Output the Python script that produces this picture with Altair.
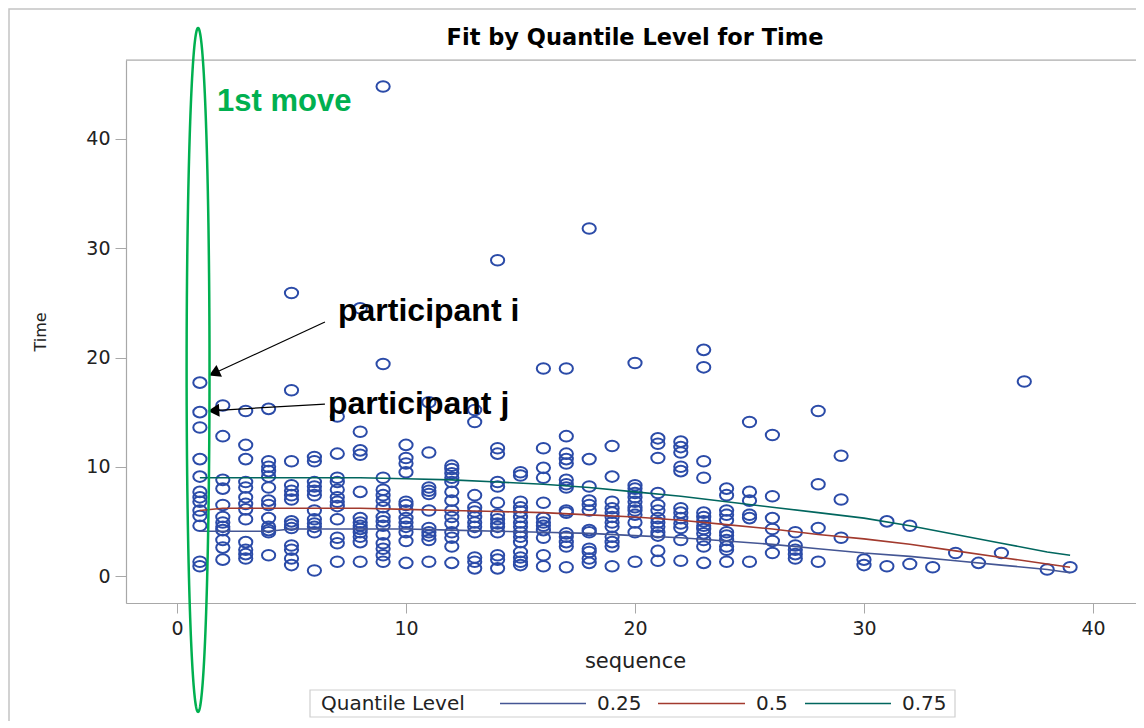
import altair as alt
import numpy as np
import pandas as pd

s1 = [17.7, 15.0, 13.6, 10.7, 9.1, 7.7, 7.2, 6.8, 6.0, 5.5, 4.6, 1.3, 0.9]
s2 = [15.6, 12.8, 8.8, 8.0, 6.5, 5.4, 4.9, 4.5, 4.2, 3.3, 2.6, 1.5]
s3 = [15.1, 12.0, 10.7, 8.6, 8.1, 7.2, 6.6, 6.1, 5.2, 3.1, 2.4, 2.0, 1.6]
s4 = [15.3, 10.5, 10.0, 9.6, 9.1, 8.1, 6.9, 6.5, 5.3, 4.5, 4.2, 4.0, 1.9]
s5 = [25.9, 17.0, 10.5, 8.3, 7.8, 7.4, 7.0, 5.0, 4.7, 4.4, 2.8, 2.4, 1.6, 1.0]
s6 = [10.9, 10.5, 8.6, 8.2, 7.8, 7.4, 6.0, 5.2, 4.8, 4.5, 4.0, 0.5]
s7 = [14.6, 11.2, 9.0, 8.6, 7.9, 7.2, 6.8, 6.4, 5.2, 3.5, 3.0, 1.3]
s8 = [24.5, 13.2, 11.5, 11.1, 7.7, 5.3, 4.9, 4.6, 4.3, 4.0, 3.6, 3.1, 1.3]
s9 = [44.8, 19.4, 9.0, 7.9, 7.4, 6.9, 6.3, 5.4, 5.0, 4.6, 3.8, 3.0, 2.5, 1.9, 1.3]
s10 = [12.0, 10.8, 10.3, 9.5, 6.8, 6.5, 6.0, 5.3, 4.9, 4.5, 4.0, 3.2, 1.2]
s11 = [15.9, 11.3, 8.1, 7.8, 7.5, 6.0, 4.4, 4.0, 3.7, 3.3, 1.3]
s12 = [10.1, 9.8, 9.4, 9.0, 8.6, 7.7, 6.9, 6.0, 5.4, 4.8, 4.0, 3.5, 2.7, 1.2]
s13 = [15.2, 14.1, 7.4, 6.3, 5.9, 5.4, 4.9, 4.5, 4.0, 1.7, 1.3, 0.7]
s14 = [28.9, 11.7, 11.2, 8.6, 8.2, 6.7, 5.6, 5.2, 4.8, 4.5, 4.0, 1.9, 1.5, 0.7]
s15 = [9.5, 9.2, 6.8, 6.3, 5.9, 5.4, 4.9, 4.5, 4.0, 3.6, 3.1, 2.2, 1.7, 1.3, 1.0]
s16 = [19.0, 11.7, 9.9, 9.0, 6.7, 5.3, 4.9, 4.6, 4.2, 3.5, 1.9, 0.9]
s17 = [19.0, 12.8, 11.2, 10.7, 10.3, 8.8, 8.4, 8.1, 6.0, 5.8, 3.9, 3.6, 3.1, 2.7, 0.8]
s18 = [31.8, 10.7, 8.2, 6.9, 6.5, 6.0, 4.2, 4.0, 2.5, 2.2, 1.6, 1.2]
s19 = [11.9, 9.1, 6.8, 6.2, 5.8, 5.4, 4.9, 4.5, 3.6, 3.1, 2.7, 0.9]
s20 = [19.5, 8.3, 8.0, 7.6, 7.2, 6.8, 6.3, 6.0, 5.6, 4.9, 4.0, 1.3]
s21 = [12.6, 12.1, 10.8, 7.6, 6.5, 6.0, 5.3, 4.9, 4.5, 4.0, 3.7, 2.3, 1.4]
s22 = [12.3, 11.8, 11.3, 10.0, 9.6, 6.2, 5.8, 5.3, 4.8, 4.4, 3.3, 1.4]
s23 = [20.7, 19.1, 10.5, 9.0, 5.8, 5.4, 5.0, 4.6, 4.3, 3.9, 3.3, 2.7, 1.2]
s24 = [8.0, 7.4, 6.0, 5.6, 5.1, 4.0, 3.7, 3.3, 2.7, 2.4, 1.3]
s25 = [14.1, 7.7, 6.9, 5.6, 5.3, 1.3]
s26 = [12.9, 7.3, 5.3, 4.3, 3.2, 2.1]
s27 = [4.0, 2.8, 2.4, 2.0, 1.6]
s28 = [15.1, 8.4, 4.4, 1.3]
s29 = [11.0, 7.0, 3.5]
s30 = [1.5, 1.0]
s31 = [5.0, 0.9]
s32 = [4.6, 1.1]
s33 = [0.8]
s34 = [2.1]
s35 = [1.2]
s36 = [2.1]
s37 = [17.8]
s38 = [0.6]
s39 = [0.8]
columns = [s1, s2, s3, s4, s5, s6, s7, s8, s9, s10, s11, s12, s13, s14, s15, s16,
           s17, s18, s19, s20, s21, s22, s23, s24, s25, s26, s27, s28, s29, s30,
           s31, s32, s33, s34, s35, s36, s37, s38, s39]

# ---- quantile fit curves ----
q_seq = [1, 2, 4, 5, 8, 10, 12, 14, 16, 18, 20, 22, 24, 26, 28, 30, 32, 34, 36, 38, 39]
q25 = [4.1, 4.1, 4.1, 4.3, 4.3, 4.3, 4.2, 4.1, 4.0, 3.9, 3.7, 3.5, 3.2, 2.9, 2.5, 2.1, 1.8, 1.4, 1.0, 0.6, 0.3]
q50 = [6.0, 6.2, 6.2, 6.2, 6.2, 6.1, 6.0, 5.9, 5.8, 5.6, 5.4, 5.1, 4.7, 4.3, 3.8, 3.4, 2.9, 2.3, 1.7, 1.1, 0.8]
q75 = [9.0, 9.0, 9.0, 9.0, 9.0, 8.9, 8.8, 8.6, 8.4, 8.1, 7.7, 7.3, 6.8, 6.3, 5.8, 5.3, 4.6, 3.8, 3.0, 2.2, 1.9]
levels = ["0.25", "0.5", "0.75"]
level_colors = ["#445694", "#A23A2E", "#01665E"]

# ---- annotations (data coordinates) ----
ann_text = ["participant i", "participant j"]
ann_text_x = [7.03, 6.59]
ann_text_y = [24.26, 15.74]
arrow_x1 = [6.46, 6.46]
arrow_y1 = [23.25, 15.74]
arrow_x2 = [1.62, 1.60]
arrow_y2 = [18.56, 15.14]
arrow_angle = [245.2, 266.6]
move_label = ["1st move"]
move_x = [1.75]
move_y = [43.39]
ellipse_center = (0.92, 18.86)
ellipse_radius = (0.50, 31.3)

# ---- legend layout (pixels relative to the plot area) ----
legend_title = "Quantile Level"
leg_box = (184, 630, 829, 657)
leg_title_x = 195
leg_line_x1 = [374, 532, 679]
leg_line_x2 = [460, 619, 765]
leg_label_x = [471, 630, 776]
leg_mid_y = 643.5

# ---- build tables ----
pts = pd.DataFrame(
    [(i + 1, v) for i, col in enumerate(columns) for v in col],
    columns=["sequence", "Time"],
)
qdf = pd.concat(
    [pd.DataFrame({"sequence": q_seq, "Time": vals, "level": lv})
     for lv, vals in zip(levels, [q25, q50, q75])],
    ignore_index=True,
)
theta = np.linspace(0, 2 * np.pi, 241)
ell = pd.DataFrame({
    "sequence": ellipse_center[0] + ellipse_radius[0] * np.cos(theta),
    "Time": ellipse_center[1] + ellipse_radius[1] * np.sin(theta),
    "o": np.arange(len(theta)),
})
arrows = pd.DataFrame({"sequence": arrow_x1, "Time": arrow_y1,
                       "sequence2": arrow_x2, "Time2": arrow_y2,
                       "angle": arrow_angle})
labels = pd.DataFrame({"sequence": ann_text_x, "Time": ann_text_y, "txt": ann_text})
move = pd.DataFrame({"sequence": move_x, "Time": move_y, "txt": move_label})
leg = pd.DataFrame({"level": levels, "lx1": leg_line_x1, "lx2": leg_line_x2,
                    "tx": leg_label_x, "ly": [leg_mid_y] * 3})

# plot area (pixels); the frame runs past the right edge of the page as in the picture
W, H = 1010, 543
xs = alt.Scale(domain=[-2.227, 41.878], nice=False, zero=False)
ys = alt.Scale(domain=[-2.47, 47.23], nice=False, zero=False)
cscale = alt.Scale(domain=levels, range=level_colors)
FRAME = "#a8a8a8"
CENTER_X = 509

AXF = "DejaVu Sans"
x_axis = alt.Axis(values=[0, 10, 20, 30, 40], title="sequence", grid=False, domain=True,
                  domainColor=FRAME, domainWidth=1.2,
                  tickSize=10, tickColor=FRAME, labelPadding=6, labelFontSize=19,
                  labelFont=AXF, labelColor="#222222", titleFont=AXF, titleFontSize=21,
                  titleFontWeight="normal", titleColor="#222222", titleY=58,
                  titleX=CENTER_X, titleBaseline="middle", titleAlign="center")
y_axis = alt.Axis(values=[0, 10, 20, 30, 40], title="Time", grid=False, domain=True,
                  domainColor=FRAME, domainWidth=1.2,
                  tickSize=11, tickColor=FRAME, labelPadding=5, labelFontSize=19,
                  labelFont=AXF, labelColor="#222222", titleFont=AXF, titleFontSize=16,
                  titleFontWeight="normal", titleColor="#222222", titleX=-86,
                  titleY=H / 2, titleBaseline="middle", titleAlign="center")

ellipse_marker = "M -1 0 A 1 0.8 0 1 0 1 0 A 1 0.8 0 1 0 -1 0 Z"
one = pd.DataFrame({"a": [0]})

border = alt.Chart(one).mark_rect(
    fillOpacity=0, stroke="#c4c4c4", strokeWidth=1.5
).encode(x=alt.value(-117), x2=alt.value(W + 40), y=alt.value(-51), y2=alt.value(H + 140))

top_frame = alt.Chart(one).mark_rule(color=FRAME, strokeWidth=1.2).encode(
    x=alt.value(0), x2=alt.value(W + 20), y=alt.value(0)
)

title = alt.Chart(one).mark_text(
    text="Fit by Quantile Level for Time", font=AXF, fontSize=22.5, fontWeight="bold",
    color="black", align="center", baseline="middle"
).encode(x=alt.value(CENTER_X), y=alt.value(-22))

points = alt.Chart(pts).mark_point(
    shape=ellipse_marker, size=175, strokeWidth=2.0, color="#2b4ba8", filled=False, opacity=1
).encode(
    x=alt.X("sequence:Q", scale=xs, axis=x_axis),
    y=alt.Y("Time:Q", scale=ys, axis=y_axis),
)

lines = alt.Chart(qdf).mark_line(strokeWidth=1.6).encode(
    x=alt.X("sequence:Q", scale=xs),
    y=alt.Y("Time:Q", scale=ys),
    color=alt.Color("level:N", scale=cscale, legend=None),
)

leg_rect = alt.Chart(one).mark_rect(
    fill="white", stroke="#cfcfcf", strokeWidth=1.2
).encode(x=alt.value(leg_box[0]), x2=alt.value(leg_box[2]),
         y=alt.value(leg_box[1]), y2=alt.value(leg_box[3]))
leg_title = alt.Chart(one).mark_text(
    text=legend_title, font=AXF, fontSize=20, color="#222222", align="left", baseline="middle"
).encode(x=alt.value(leg_title_x), y=alt.value(leg_mid_y))
leg_lines = alt.Chart(leg).mark_rule(strokeWidth=1.6).encode(
    x=alt.X("lx1:Q", scale=None), x2="lx2:Q", y=alt.Y("ly:Q", scale=None),
    color=alt.Color("level:N", scale=cscale, legend=None),
)
leg_labels = alt.Chart(leg).mark_text(
    font=AXF, fontSize=20, color="#222222", align="left", baseline="middle"
).encode(x=alt.X("tx:Q", scale=None), y=alt.Y("ly:Q", scale=None), text="level:N")

ellipse = alt.Chart(ell).mark_line(color="#00b050", strokeWidth=2.5, clip=False).encode(
    x=alt.X("sequence:Q", scale=xs), y=alt.Y("Time:Q", scale=ys), order="o:Q"
)

arrow_lines = alt.Chart(arrows).mark_rule(color="black", strokeWidth=1.2).encode(
    x=alt.X("sequence:Q", scale=xs), y=alt.Y("Time:Q", scale=ys),
    x2="sequence2:Q", y2="Time2:Q",
)
arrow_heads = alt.Chart(arrows).mark_point(
    shape="triangle-up", filled=True, color="black", size=170, opacity=1
).encode(
    x=alt.X("sequence2:Q", scale=xs), y=alt.Y("Time2:Q", scale=ys),
    angle=alt.Angle("angle:Q", scale=None),
)

ann = alt.Chart(labels).mark_text(
    align="left", baseline="middle", font="Liberation Sans", fontWeight="bold",
    fontSize=32, color="black"
).encode(x=alt.X("sequence:Q", scale=xs), y=alt.Y("Time:Q", scale=ys), text="txt:N")

move_txt = alt.Chart(move).mark_text(
    align="left", baseline="middle", font="Liberation Sans", fontWeight="bold",
    fontSize=31, color="#00b050"
).encode(x=alt.X("sequence:Q", scale=xs), y=alt.Y("Time:Q", scale=ys), text="txt:N")

chart = alt.layer(
    border, top_frame, title, points, lines, leg_rect, leg_title, leg_lines, leg_labels,
    arrow_lines, arrow_heads, ann, move_txt, ellipse
).properties(
    width=W, height=H,
    autosize=alt.AutoSizeParams(type="none"),
    padding={"left": 118, "top": 52, "right": 0, "bottom": 118},
).configure_view(
    strokeOpacity=0
).configure(background="white")

chart.save("out.html", embed_options={"renderer": "svg", "actions": False})
